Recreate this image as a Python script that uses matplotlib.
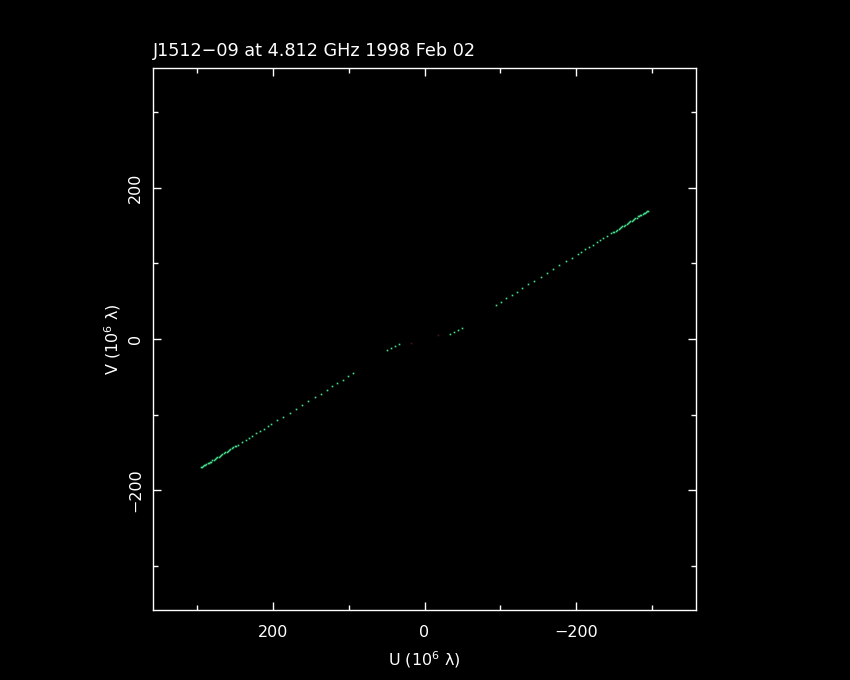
import numpy as np
import matplotlib
matplotlib.use('Agg')
import matplotlib.pyplot as plt
from matplotlib.ticker import MultipleLocator

# uv coverage, one half of the track (the conjugate is plotted too)
u = [295, 293.5, 292, 290.5, 289, 287.5, 286, 284.5, 283, 281.5,
     280, 278, 276.5, 275, 273, 271.5, 270, 268, 266.5, 265,
     263, 261, 259.5, 258, 256, 254, 252, 250, 248, 246,
     241, 236, 232, 227, 222, 217, 212, 207, 202,
     194, 186, 178, 170, 161, 153, 145, 137,
     129, 122, 115, 108, 101, 94,
     49, 44, 39, 33]
v = [-169.6, -168.8, -167.9, -167.0, -166.2, -165.3, -164.4, -163.6, -162.7, -161.9,
     -160.5, -159.4, -158.5, -157.6, -156.3, -155.3, -154.3, -153.1, -152.2, -151.2,
     -149.9, -148.7, -147.7, -146.9, -145.6, -144.4, -143.1, -142.0, -140.7, -139.5,
     -136.4, -133.3, -130.8, -127.6, -124.6, -121.4, -118.3, -115.2, -112.2,
     -107.3, -102.4, -97.4, -92.5, -86.9, -82.0, -77.0, -72.0,
     -67.0, -62.6, -58.1, -53.6, -49.1, -44.6,
     -14.2, -11.3, -8.9, -6.0]
# faint flagged points near the centre
u_bad = [18]
v_bad = [-5]

title = 'J1512\u221209 at 4.812 GHz 1998 Feb 02'

u = np.array(u)
v = np.array(v)

fig = plt.figure(figsize=(8.5, 6.8), dpi=100, facecolor='black')
ax = fig.add_axes([153 / 850, 1 - 610 / 680, 543 / 850, 542 / 680])
ax.set_facecolor('black')

green = '#44e08c'
ax.plot(u, v, ls='none', marker='s', ms=1.2, mew=0, color=green)
ax.plot(-u, -v, ls='none', marker='s', ms=1.2, mew=0, color=green)
ax.plot(u_bad, v_bad, ls='none', marker='s', ms=1.2, mew=0, color='#4a1515')
ax.plot([-x for x in u_bad], [-y for y in v_bad], ls='none', marker='s', ms=1.2, mew=0, color='#4a1515')

ax.set_xlim(358, -358)
ax.set_ylim(-358, 358)

for s in ax.spines.values():
    s.set_color('white')
    s.set_linewidth(1.0)

ax.xaxis.set_major_locator(MultipleLocator(200))
ax.xaxis.set_minor_locator(MultipleLocator(100))
ax.yaxis.set_major_locator(MultipleLocator(200))
ax.yaxis.set_minor_locator(MultipleLocator(100))
ax.tick_params(which='both', direction='in', colors='white', top=True, right=True, width=1.0)
ax.tick_params(which='major', length=6)
ax.tick_params(which='minor', length=3.3)
ax.tick_params(axis='x', labelsize=11.5, pad=10.5)
ax.tick_params(axis='y', labelsize=11.5, pad=7, labelrotation=90)
for lab in ax.get_yticklabels():
    lab.set_va('center')

ax.set_xlabel('U (10$^6$ \u03bb)', color='white', fontsize=11.5, labelpad=7)
ax.set_ylabel('V (10$^6$ \u03bb)', color='white', fontsize=11.5, labelpad=4)

fig.text(153 / 850, 1 - 56 / 680, title, color='white', fontsize=12.7,
         ha='left', va='baseline')

fig.savefig('out.png', dpi=100, facecolor='black')
